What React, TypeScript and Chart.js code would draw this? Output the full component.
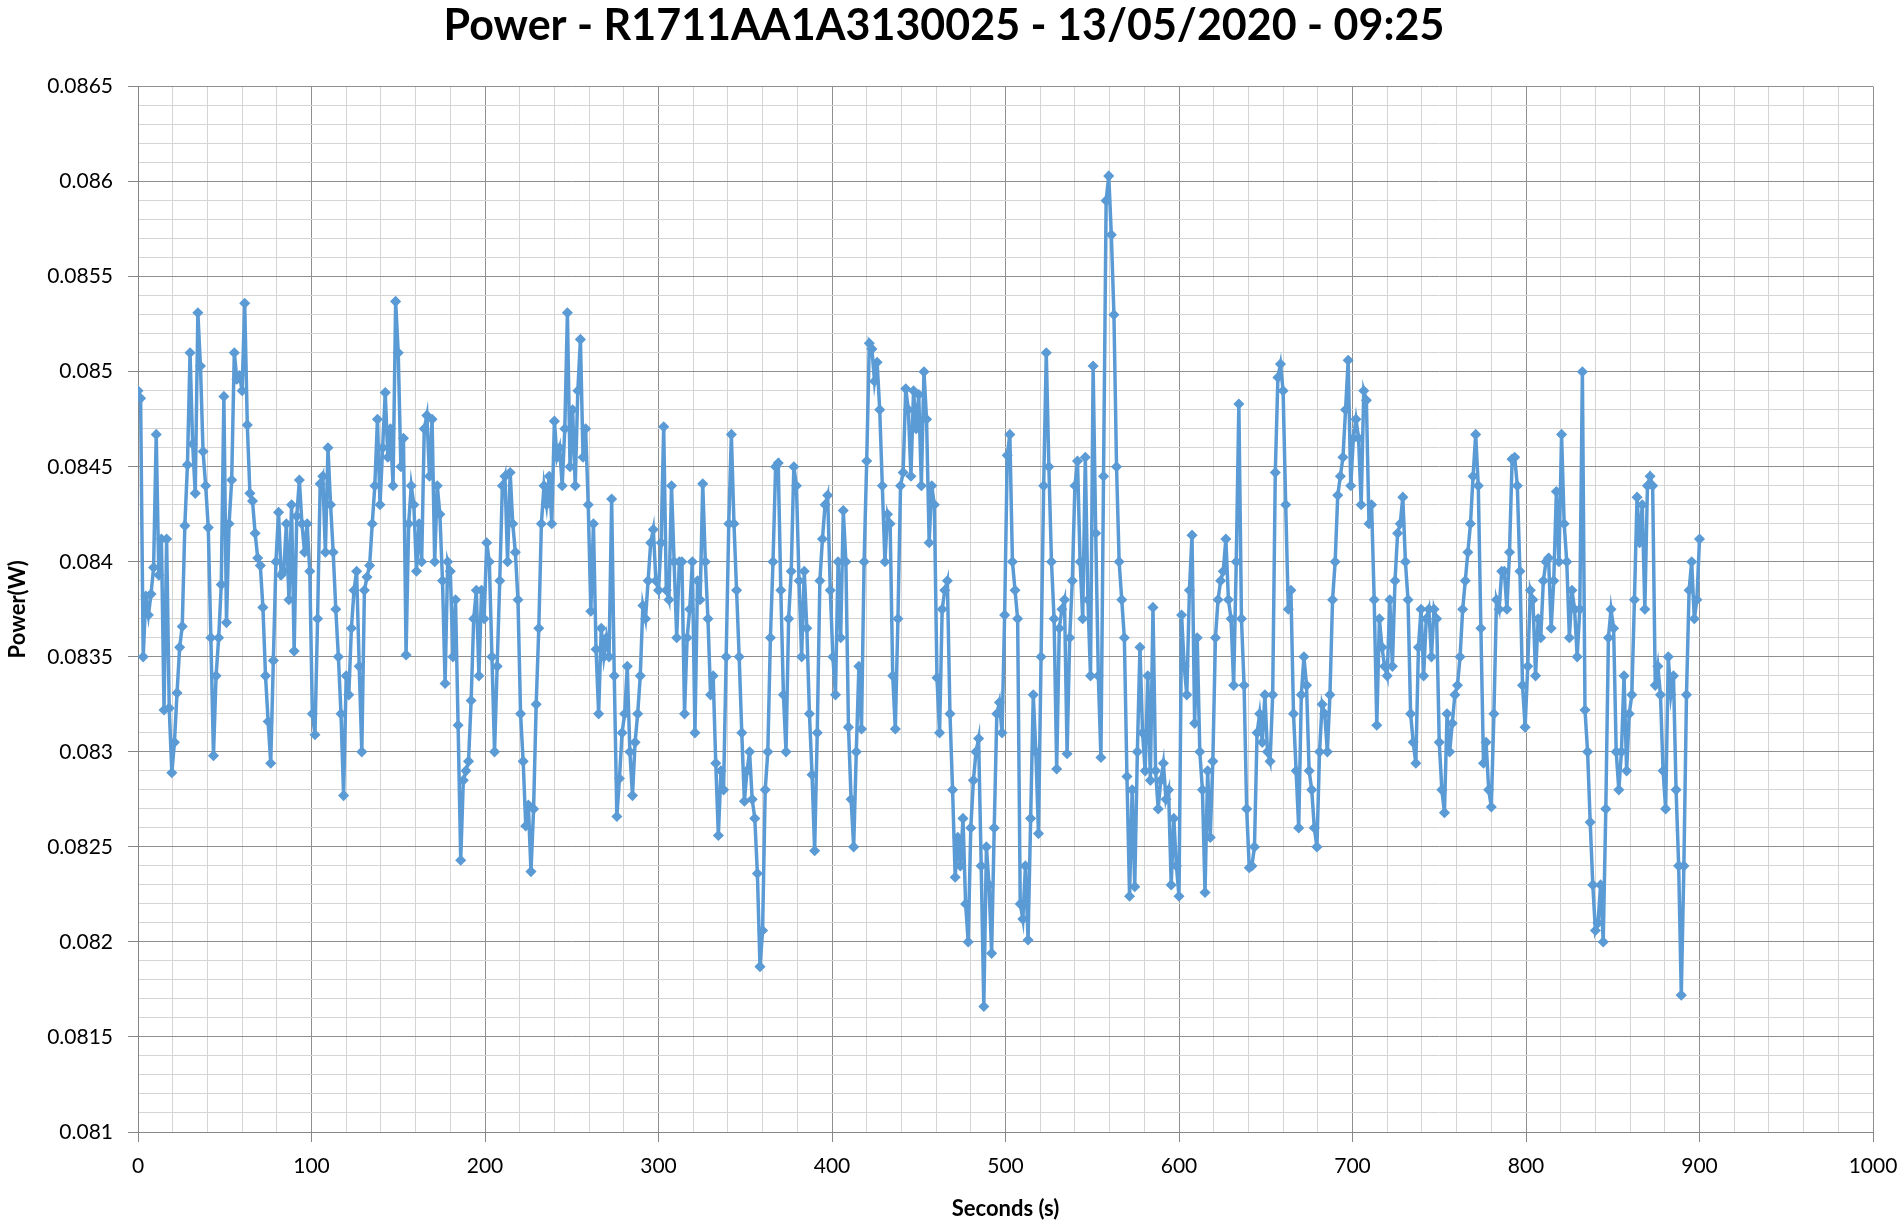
import React, { useEffect, useRef } from "react";
import { Chart, registerables } from "chart.js";

Chart.register(...registerables);

const CHART_TITLE = "Power - R1711AA1A3130025 - 13/05/2020 - 09:25";
const X_AXIS_TITLE = "Seconds (s)";
const Y_AXIS_TITLE = "Power(W)";

// Sampling interval of the logged series, in seconds
const SAMPLE_STEP_S = 1.5;

// Power readings (W), one every SAMPLE_STEP_S seconds from t = 0 s to t = 900 s
const POWER_W: number[] = [
  // 0 – 81 s
  0.0849, 0.08486, 0.0835, 0.08382, 0.08372, 0.08383, 0.08397, 0.08467, 0.08393, 0.08412,
  0.08322, 0.08412, 0.08323, 0.08289, 0.08305, 0.08331, 0.08355, 0.08366, 0.08419, 0.08451,
  0.0851, 0.08462, 0.08436, 0.08531, 0.08503, 0.08458, 0.0844, 0.08418, 0.0836, 0.08298,
  0.0834, 0.0836, 0.08388, 0.08487, 0.08368, 0.0842, 0.08443, 0.0851, 0.08496, 0.08498,
  0.0849, 0.08536, 0.08472, 0.08436, 0.08432, 0.08415, 0.08402, 0.08398, 0.08376, 0.0834,
  0.08316, 0.08294, 0.08348, 0.084, 0.08426,
  // 82.5 – 162 s
  0.08393, 0.08395, 0.0842, 0.0838, 0.0843, 0.08353, 0.08424, 0.08443, 0.0842, 0.08405,
  0.0842, 0.08395, 0.0832, 0.08309, 0.0837, 0.08441, 0.08445, 0.08405, 0.0846, 0.0843,
  0.08405, 0.08375, 0.0835, 0.0832, 0.08277, 0.0834, 0.0833, 0.08365, 0.08385, 0.08395,
  0.08345, 0.083, 0.08385, 0.08392, 0.08398, 0.0842, 0.0844, 0.08475, 0.0843, 0.0846,
  0.08489, 0.08455, 0.0847, 0.0844, 0.08537, 0.0851, 0.0845, 0.08465, 0.08351, 0.0842,
  0.0844, 0.0843, 0.08395, 0.0842,
  // 163.5 – 240 s
  0.084, 0.0847, 0.08477, 0.08445, 0.08475, 0.084, 0.0844, 0.08425, 0.0839, 0.08336,
  0.084, 0.08395, 0.0835, 0.0838, 0.08314, 0.08243, 0.08285, 0.0829, 0.08295, 0.08327,
  0.0837, 0.08385, 0.0834, 0.08385, 0.0837, 0.0841, 0.084, 0.0835, 0.083, 0.08345,
  0.0839, 0.0844, 0.08445, 0.084, 0.08447, 0.0842, 0.08405, 0.0838, 0.0832, 0.08295,
  0.08261, 0.08272, 0.08237, 0.0827, 0.08325, 0.08365, 0.0842, 0.0844, 0.0843, 0.08445,
  0.0842, 0.08474,
  // 241.5 – 322.5 s
  0.08455, 0.0846, 0.0844, 0.0847, 0.08531, 0.0845, 0.0848, 0.0844, 0.0849, 0.08517,
  0.08455, 0.0847, 0.0843, 0.08374, 0.0842, 0.08354, 0.0832, 0.08365, 0.0835, 0.0836,
  0.0835, 0.08433, 0.0834, 0.08266, 0.08286, 0.0831, 0.0832, 0.08345, 0.083, 0.08277,
  0.08305, 0.0832, 0.0834, 0.08377, 0.0837, 0.0839, 0.0841, 0.08417, 0.0839, 0.08385,
  0.0841, 0.08471, 0.08385, 0.0838, 0.0844, 0.084, 0.0836, 0.084, 0.084, 0.0832,
  0.0836, 0.08375, 0.084, 0.0831, 0.0839,
  // 324 – 403.5 s
  0.0838, 0.08441, 0.084, 0.0837, 0.0833, 0.0834, 0.08294, 0.08256, 0.0829, 0.0828,
  0.0835, 0.0842, 0.08467, 0.0842, 0.08385, 0.0835, 0.0831, 0.08274, 0.0829, 0.083,
  0.08275, 0.08265, 0.08236, 0.08187, 0.08206, 0.0828, 0.083, 0.0836, 0.084, 0.0845,
  0.08452, 0.08385, 0.0833, 0.083, 0.0837, 0.08395, 0.0845, 0.0844, 0.0839, 0.0835,
  0.08395, 0.08365, 0.0832, 0.08288, 0.08248, 0.0831, 0.0839, 0.08412, 0.0843, 0.08435,
  0.08385, 0.0835, 0.0833, 0.084,
  // 405 – 483 s
  0.0836, 0.08427, 0.084, 0.08313, 0.08275, 0.0825, 0.083, 0.08345, 0.08312, 0.084,
  0.08453, 0.08515, 0.08512, 0.08495, 0.08505, 0.0848, 0.0844, 0.084, 0.08425, 0.0842,
  0.0834, 0.08312, 0.0837, 0.0844, 0.08447, 0.08491, 0.0848, 0.08445, 0.0849, 0.0847,
  0.08488, 0.0844, 0.085, 0.08475, 0.0841, 0.0844, 0.0843, 0.08339, 0.0831, 0.08375,
  0.08385, 0.0839, 0.0832, 0.0828, 0.08234, 0.08255, 0.0824, 0.08265, 0.0822, 0.082,
  0.0826, 0.08285, 0.083,
  // 484.5 – 565.5 s
  0.08307, 0.0824, 0.08166, 0.0825, 0.0823, 0.08194, 0.0826, 0.0832, 0.08326, 0.0831,
  0.08372, 0.08456, 0.08467, 0.084, 0.08385, 0.0837, 0.0822, 0.08212, 0.0824, 0.08201,
  0.08265, 0.0833, 0.083, 0.08257, 0.0835, 0.0844, 0.0851, 0.0845, 0.084, 0.0837,
  0.08291, 0.08365, 0.08375, 0.0838, 0.08299, 0.0836, 0.0839, 0.0844, 0.08453, 0.084,
  0.0837, 0.08455, 0.0838, 0.0834, 0.08503, 0.08415, 0.0834, 0.08297, 0.08445, 0.0859,
  0.08603, 0.08572, 0.0853, 0.0845, 0.084,
  // 567 – 645 s
  0.0838, 0.0836, 0.08287, 0.08224, 0.0828, 0.08229, 0.083, 0.08355, 0.0831, 0.0829,
  0.0834, 0.08285, 0.08376, 0.0829, 0.0827, 0.08285, 0.08294, 0.08275, 0.0828, 0.0823,
  0.08265, 0.0824, 0.08224, 0.08372, 0.08345, 0.0833, 0.08385, 0.08414, 0.08315, 0.0836,
  0.083, 0.0828, 0.08226, 0.0829, 0.08255, 0.08295, 0.0836, 0.0838, 0.0839, 0.08395,
  0.08412, 0.0838, 0.0837, 0.08335, 0.084, 0.08483, 0.0837, 0.08335, 0.0827, 0.08239,
  0.0824, 0.0825, 0.0831,
  // 646.5 – 720 s
  0.0832, 0.08305, 0.0833, 0.083, 0.08295, 0.0833, 0.08447, 0.08497, 0.08504, 0.0849,
  0.0843, 0.08375, 0.08385, 0.0832, 0.0829, 0.0826, 0.0833, 0.0835, 0.08335, 0.0829,
  0.0828, 0.0826, 0.0825, 0.083, 0.08325, 0.0832, 0.083, 0.0833, 0.0838, 0.084,
  0.08435, 0.08445, 0.08455, 0.0848, 0.08506, 0.0844, 0.08465, 0.08475, 0.08465, 0.0843,
  0.0849, 0.08485, 0.0842, 0.0843, 0.0838, 0.08314, 0.0837, 0.08355, 0.08345, 0.0834,
  // 721.5 – 804 s
  0.0838, 0.08345, 0.0839, 0.08415, 0.0842, 0.08434, 0.084, 0.0838, 0.0832, 0.08305,
  0.08294, 0.08355, 0.08375, 0.0834, 0.0837, 0.08375, 0.0835, 0.08375, 0.0837, 0.08305,
  0.0828, 0.08268, 0.0832, 0.083, 0.08315, 0.0833, 0.08335, 0.0835, 0.08375, 0.0839,
  0.08405, 0.0842, 0.08445, 0.08467, 0.0844, 0.08365, 0.08294, 0.08305, 0.0828, 0.08271,
  0.0832, 0.0838, 0.08375, 0.08395, 0.08395, 0.08375, 0.08405, 0.08454, 0.08455, 0.0844,
  0.08395, 0.08335, 0.08313, 0.08345, 0.08385, 0.0838,
  // 805.5 – 900 s
  0.0834, 0.0837, 0.0836, 0.0839, 0.084, 0.08402, 0.08365, 0.0839, 0.08437, 0.084,
  0.08467, 0.0842, 0.084, 0.0836, 0.08385, 0.08375, 0.0835, 0.08375, 0.085, 0.08322,
  0.083, 0.08263, 0.0823, 0.08206, 0.0821, 0.0823, 0.082, 0.0827, 0.0836, 0.08375,
  0.08365, 0.083, 0.0828, 0.083, 0.0834, 0.0829, 0.0832, 0.0833, 0.0838, 0.08434,
  0.0841, 0.0843, 0.08375, 0.0844, 0.08445, 0.0844, 0.08335, 0.08345, 0.0833, 0.0829,
  0.0827, 0.0835, 0.0833, 0.0834, 0.0828, 0.0824, 0.08172, 0.0824, 0.0833, 0.08385,
  0.084, 0.0837, 0.0838, 0.08412,
];

// Axis ranges and tick steps
const X_RANGE = [0, 1000];
const X_MAJOR_STEP = 100;
const X_MINOR_STEP = 20;
const Y_RANGE = [0.081, 0.0865];
const Y_MAJOR_STEP = 0.0005;
const Y_MINOR_STEP = 0.0001;

const FONT = "Lato, 'Open Sans', 'Liberation Sans', sans-serif";
const SERIES_COLOR = "#5B9BD5";
const MAJOR_GRID = "#8f8f8f";
const MINOR_GRID = "#d4d4d4";
const AXIS_LINE = "#868686";

const isMajorX = (v: number) => Math.abs(v / X_MAJOR_STEP - Math.round(v / X_MAJOR_STEP)) < 1e-6;
const isMajorY = (v: number) => {
  const k = Math.round(v / Y_MINOR_STEP);
  return k % Math.round(Y_MAJOR_STEP / Y_MINOR_STEP) === 0;
};

export default function App() {
  const canvasRef = useRef<HTMLCanvasElement | null>(null);

  useEffect(() => {
    const canvas = canvasRef.current;
    if (!canvas) return;
    const points = POWER_W.map((p, i) => ({ x: i * SAMPLE_STEP_S, y: p }));

    const chart = new Chart(canvas, {
      type: "line",
      data: {
        datasets: [
          {
            label: "Power",
            data: points,
            borderColor: SERIES_COLOR,
            backgroundColor: SERIES_COLOR,
            borderWidth: 3.5,
            pointStyle: "rectRot",
            pointRadius: 4.5,
            pointBorderWidth: 1.5,
            pointBackgroundColor: SERIES_COLOR,
            pointBorderColor: SERIES_COLOR,
            tension: 0,
            fill: false,
          },
        ],
      },
      options: {
        animation: false,
        responsive: false,
        maintainAspectRatio: false,
        layout: { padding: { left: 0, right: 15, top: 0, bottom: 0 } },
        plugins: {
          legend: { display: false },
          tooltip: { enabled: false },
          title: {
            display: true,
            text: CHART_TITLE,
            color: "#000000",
            font: { family: FONT, size: 43, weight: "bold", lineHeight: 1.2 },
            padding: { top: 0, bottom: 35 },
          },
        },
        scales: {
          x: {
            type: "linear",
            min: X_RANGE[0],
            max: X_RANGE[1],
            afterFit: (scale: any) => {
              scale.height = 94;
              scale.paddingRight = 30;
              scale.paddingLeft = 0;
            },
            ticks: {
              stepSize: X_MINOR_STEP,
              autoSkip: false,
              maxRotation: 0,
              padding: 12,
              color: "#000000",
              font: { family: FONT, size: 21 },
              callback: (v: any) => (isMajorX(Number(v)) ? String(Math.round(Number(v))) : ""),
            },
            grid: {
              color: (ctx: any) => (isMajorX(ctx.tick?.value ?? 0) ? MAJOR_GRID : MINOR_GRID),
              tickColor: (ctx: any) => (isMajorX(ctx.tick?.value ?? 0) ? AXIS_LINE : "rgba(0,0,0,0)"),
              tickLength: 10,
              lineWidth: 1,
            },
            border: { color: AXIS_LINE, width: 1 },
            title: {
              display: true,
              text: X_AXIS_TITLE,
              color: "#000000",
              font: { family: FONT, size: 22, weight: "bold", lineHeight: 1.2 },
              padding: { top: 0, bottom: 4 },
            },
          },
          y: {
            type: "linear",
            min: Y_RANGE[0],
            max: Y_RANGE[1],
            afterFit: (scale: any) => {
              scale.width = 138;
            },
            ticks: {
              stepSize: Y_MINOR_STEP,
              autoSkip: false,
              padding: 15,
              color: "#000000",
              font: { family: FONT, size: 21 },
              callback: (v: any) => {
                const n = Number(v);
                if (!isMajorY(n)) return "";
                return String(parseFloat(n.toFixed(5)));
              },
            },
            grid: {
              color: (ctx: any) => (isMajorY(ctx.tick?.value ?? 0) ? MAJOR_GRID : MINOR_GRID),
              tickColor: (ctx: any) => (isMajorY(ctx.tick?.value ?? 0) ? AXIS_LINE : "rgba(0,0,0,0)"),
              tickLength: 10,
              lineWidth: 1,
            },
            border: { color: AXIS_LINE, width: 1 },
            title: {
              display: true,
              text: Y_AXIS_TITLE,
              color: "#000000",
              font: { family: FONT, size: 22, weight: "bold", lineHeight: 1.2 },
              padding: { top: 5, bottom: 0 },
            },
          },
        },
      },
    });

    return () => {
      chart.destroy();
    };
  }, []);

  return (
    <div style={{ position: "fixed", left: 0, top: 0, width: 1903, height: 1226, background: "#ffffff" }}>
      <canvas ref={canvasRef} width={1903} height={1226} style={{ display: "block", width: 1903, height: 1226 }} />
    </div>
  );
}
